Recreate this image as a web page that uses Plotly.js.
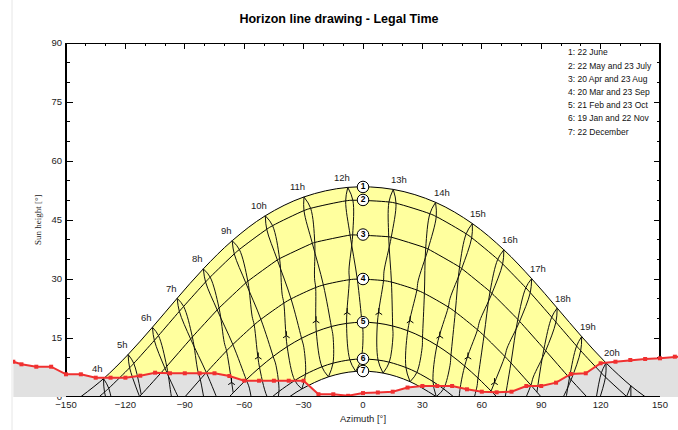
<!DOCTYPE html>
<html><head><meta charset="utf-8">
<script src="https://cdn.plot.ly/plotly-3.0.1.min.js"></script>
<style>html,body{margin:0;padding:0;background:#fff}#chart{width:678px;height:430px}</style>
</head><body><div id="chart"></div>
<script>
// ---------- data (azimuth ° from south, west positive ; sun height °) ----------
const HOURS = [3,4,5,6,7,8,9,10,11,12,13,14,15,16,17,18,19,20,21];
const _ = null;
// iso-date points at each legal hour
const junAz  = [-143.86,-131.05,-118.63,-106.35,-93.86,-80.65,-66.07,-49.34,-29.81,-7.69,15.27,36.64,55.21,71.14,85.17,98.07,110.44,122.74,135.28];
const junAlt = [-0.4,4.66,10.81,17.73,25.10,32.58,39.74,46.08,50.86,53.29,52.78,49.49,44.10,37.42,30.09,22.61,15.36,8.66,2.84];
const mayAz  = [-141.45,-128.41,-115.77,-103.29,-90.6,-77.2,-62.45,-45.67,-26.43,-5.12,16.68,37.0,54.9,70.52,84.47,97.43,109.95,122.46,135.3];
const mayAlt = [-3.1,2.21,8.55,15.61,23.03,30.47,37.50,43.56,47.97,50.02,49.26,45.87,40.49,33.83,26.53,19.04,11.77,5.05,-0.77];
const julAz  = [-143.68,-130.55,-117.86,-105.38,-92.76,-79.51,-65.02,-48.63,-29.81,-8.76,13.1,33.77,52.1,68.05,82.23,95.31,107.87,120.37,133.13];
const julAlt = [-3.85,1.24,7.43,14.39,21.78,29.24,36.38,42.64,47.39,49.86,49.58,46.59,41.49,35.0,27.77,20.29,12.96,6.13,0.12];
const aprAz  = [_,-125.17,-112.0,-99.13,-86.19,-72.71,-58.18,-42.14,-24.37,-5.22,14.27,32.86,49.84,65.12,79.1,92.27,105.11,118.08,_];
const aprAlt = [_,-6.0,0.58,7.79,15.26,22.62,29.43,35.18,39.29,41.21,40.62,37.62,32.66,26.35,19.23,11.77,4.37,-2.59,_];
const augAz  = [_,-126.06,-112.85,-99.99,-87.07,-73.64,-59.19,-43.26,-25.6,-6.52,12.98,31.67,48.76,64.16,78.2,91.4,104.26,117.21,_];
const augAlt = [_,-6.4,0.11,7.29,14.76,22.14,29.01,34.85,39.08,41.16,40.73,37.89,33.05,26.80,19.72,12.27,4.85,-2.15,_];
const m26Az  = [_,_,_,-96.4,-83.39,-70.07,-56.0,-40.85,-24.47,-7.09,10.62,27.84,43.99,58.9,72.78,86.0,99.0,_,_];
const m26Alt = [_,_,_,-0.91,6.57,13.86,20.53,26.14,30.18,32.21,31.99,29.52,25.12,19.27,12.44,5.08,-2.4,_,_];
const marAz  = [_,_,-95.2,-82.19,-68.92,-54.96,-39.99,-23.91,-6.92,10.36,27.21,43.08,57.82,71.62,84.8,97.81,_,_,_];
const marAlt = [_,_,-3.0,4.49,11.73,18.34,23.86,27.83,29.82,29.59,27.18,22.87,17.09,10.32,3.0,-4.49,_,_,_];
const sepAz  = [_,_,_,-92.17,-79.13,-65.74,-51.57,-36.34,-20.01,-2.89,14.36,31.01,46.62,61.12,74.73,87.83,100.87,_,_];
const sepAlt = [_,_,_,-1.25,6.21,13.35,19.74,24.94,28.48,29.97,29.22,26.33,21.63,15.59,8.65,1.25,-6.21,_,_];
const febAz  = [_,_,_,-78.45,-65.55,-52.25,-38.3,-23.6,-8.3,7.26,22.6,37.34,51.34,64.68,77.6,_,_,_,_];
const febAlt = [_,_,_,-6.05,1.07,7.48,12.80,16.65,18.71,18.78,16.85,13.11,7.87,1.52,-5.56,_,_,_,_];
const octAz  = [_,_,_,_,-72.03,-58.97,-45.37,-31.04,-16.0,-0.52,14.98,30.05,44.43,58.08,71.17,_,_,_,_];
const octAlt = [_,_,_,_,-2.42,4.39,10.3,14.93,17.92,19.0,18.05,15.19,10.66,4.81,-1.95,_,_,_,_];
const o29Az  = [_,_,_,_,-70.34,-57.39,-43.95,-29.86,-15.13,0,15.13,29.86,43.95,57.39,70.34,_,_,_,_];
const o29Alt = [_,_,_,_,-4.46,2.26,8.05,12.55,15.41,16.40,15.41,12.55,8.05,2.26,-4.46,_,_,_,_];
const janAz  = [_,_,_,_,_,-47.64,-34.46,-20.76,-6.65,7.6,21.68,35.36,48.5,_,_,_,_,_,_];
const janAlt = [_,_,_,_,_,-0.72,4.2,7.68,9.45,9.39,7.49,3.92,-1.09,_,_,_,_,_,_];
const novAz  = [_,_,_,_,-55.32,-42.43,-29.04,-15.15,-0.95,13.27,27.21,40.68,53.63,_,_,_,_,_,_];
const novAlt = [_,_,_,_,-4.23,1.41,5.78,8.6,9.65,8.85,6.25,2.07,-3.42,_,_,_,_,_,_];
const decAz  = [_,_,_,_,_,-43.87,-30.89,-17.45,-3.7,10.14,23.78,37.0,49.78,_,_,_,_,_,_];
const decAlt = [_,_,_,_,_,-2.49,2.05,5.12,6.5,6.08,3.89,0.1,-5.04,_,_,_,_,_,_];

// sunrise / sunset azimuth of each date curve (1..7) and noon height
const riseAz  = [142.7,133.4,113.1,90.0,67.6,45.9,37.3];
const noonAlt = [53.4,50.1,41.3,30.0,19.0,9.7,6.6];
const curveNo = ['1','2','3','4','5','6','7'];

// horizon profile
const horAz  = [-176.6,-172.5,-165,-157.5,-150,-142.5,-135,-127.5,-120,-112.5,-105,-97.5,-90,-82.5,-75,-67.5,-60,-52.5,-45,-37.5,-30,-22.5,-15,-7.5,0,7.5,15,22.5,30,37.5,45,52.5,60,67.5,75,82.5,90,97.5,105,112.5,120,127.5,135,142.5,150,157.5,165];
const horAlt = [8.97,8.31,7.70,7.70,5.77,5.77,4.91,4.91,4.91,5.42,6.18,6.03,6.03,6.03,6.03,5.34,4.14,4.14,4.14,4.14,4.14,0.7,0.69,0.3,1.0,1.15,1.35,2.4,2.8,2.8,2.8,1.96,1.35,1.19,1.35,2.8,2.8,3.64,5.85,6.03,8.57,8.97,9.41,9.66,9.84,10.25,10.5];

// small direction arrows on the iso-hour lines
const arrowAz  = [-66.4,-52.9,-38.7,-23.7,-8.0,8.0,23.8,38.8,53.0,66.4];
const arrowAlt = [3.7,10.2,15.6,19.4,21.5,21.5,19.4,15.5,10.2,3.7];

const hourLabels = ['4h','5h','6h','7h','8h','9h','10h','11h','12h','13h','14h','15h','16h','17h','18h','19h','20h'];
const legendLines = ['1: 22 June','2: 22 May and 23 July','3: 20 Apr and 23 Aug','4: 20 Mar and 23 Sep','5: 21 Feb and 23 Oct','6: 19 Jan and 22 Nov','7: 22 December'];
const xTicks = [-150,-120,-90,-60,-30,0,30,60,90,120,150];
const xMinor = [-140,-130,-110,-100,-80,-70,-50,-40,-20,-10,10,20,40,50,70,80,100,110,130,140];
const yTicks = [0,15,30,45,60,75,90];

// ---------- build ----------
const INST = {jun:[junAz,junAlt],may:[mayAz,mayAlt],jul:[julAz,julAlt],apr:[aprAz,aprAlt],aug:[augAz,augAlt],
  m26:[m26Az,m26Alt],mar:[marAz,marAlt],sep:[sepAz,sepAlt],feb:[febAz,febAlt],oct:[octAz,octAlt],
  o29:[o29Az,o29Alt],jan:[janAz,janAlt],nov:[novAz,novAlt],dec:[decAz,decAlt]};
function P(k,T){const i=HOURS.indexOf(T); if(i<0) return null; const a=INST[k][0][i]; if(a==null) return null; return [a,INST[k][1][i]];}
function path(seq){const x=[],y=[]; seq.forEach(([k,T])=>{const p=P(k,T); if(p){x.push(p[0]);y.push(p[1]);}}); return {x,y};}

const DATE_SETS = [['jun'],['may','jul'],['apr','aug'],['mar','sep'],['feb','oct'],['jan','nov'],['dec']];
const dateCurves = DATE_SETS.map((set,ci)=>{
  let pts=[];
  set.forEach(k=>{INST[k][0].forEach((a,i)=>{const b=INST[k][1][i]; if(a!=null && b>0.3) pts.push([a,b]);});});
  pts.sort((p,q)=>p[0]-q[0]);
  pts=[[-riseAz[ci],0]].concat(pts,[[riseAz[ci],0]]);
  return {x:pts.map(p=>p[0]),y:pts.map(p=>p[1])};
});

const BLACK='#000';
const traces=[];
// yellow band between curve 1 and curve 7
const c1=dateCurves[0], c7=dateCurves[6];
traces.push({x:[-riseAz[0]].concat(c7.x,[riseAz[0]]),y:[0].concat(c7.y,[0]),mode:'lines',
  line:{width:0,shape:'spline',color:'rgba(0,0,0,0)'},hoverinfo:'skip'});
traces.push({x:c1.x,y:c1.y,mode:'lines',fill:'tonexty',fillcolor:'#ffff9e',
  line:{width:0,shape:'spline',color:'rgba(0,0,0,0)'},hoverinfo:'skip'});
// horizon grey area
traces.push({x:horAz,y:horAlt,mode:'lines',fill:'tozeroy',fillcolor:'#e1e1e1',line:{width:0,color:'rgba(0,0,0,0)'},hoverinfo:'skip'});
// date curves
dateCurves.forEach(c=>traces.push({x:c.x,y:c.y,mode:'lines',line:{color:BLACK,width:1,shape:'spline'},hoverinfo:'skip'}));
// iso-hour lines (two branches, legal time with DST jumps)
for(let T=3;T<=20;T++){
  const a=path([['dec',T],['jan',T],['feb',T],['mar',T],['m26',T+1],['apr',T+1],['may',T+1],['jun',T+1]]);
  if(a.x.length>1) traces.push({x:a.x,y:a.y,mode:'lines',line:{color:'#111',width:1,shape:'spline'},hoverinfo:'skip'});
}
for(let T=4;T<=21;T++){
  const b=path([['jun',T],['jul',T],['aug',T],['sep',T],['oct',T],['o29',T],['nov',T-1],['dec',T-1]]);
  if(b.x.length>1) traces.push({x:b.x,y:b.y,mode:'lines',line:{color:'#111',width:1,shape:'spline'},hoverinfo:'skip'});
}
traces.push({x:arrowAz,y:arrowAlt,mode:'markers',marker:{symbol:'y-up',size:5.5,color:BLACK,line:{width:1,color:BLACK}},hoverinfo:'skip'});
// numbered circles
traces.push({x:noonAlt.map(()=>0),y:noonAlt,mode:'markers+text',text:curveNo,textposition:'middle center',
  textfont:{family:'Liberation Sans, Arial',size:8.5,color:BLACK,weight:'bold'},
  marker:{symbol:'circle',size:11.5,color:'#fff',line:{width:1,color:BLACK}},hoverinfo:'skip'});
// horizon line
traces.push({x:horAz,y:horAlt,mode:'lines+markers',line:{color:'#f03030',width:2},
  marker:{symbol:'square',size:4,color:'#f03030'},hoverinfo:'skip'});
// dummy traces for extra axes
traces.push({x:[0],y:[-10],xaxis:'x2',yaxis:'y',mode:'markers',marker:{opacity:0},hoverinfo:'skip'});
traces.push({x:[0],y:[-10],xaxis:'x',yaxis:'y2',mode:'markers',marker:{opacity:0},hoverinfo:'skip'});

const FONT='Liberation Sans, Arial, sans-serif';
const annotations=[];
hourLabels.forEach((t,k)=>{
  const p=P('jun',k+4);
  const xs = p[0]<-3?-6:(p[0]>3?6:-1);
  annotations.push({x:p[0],y:p[1],text:t,showarrow:false,xshift:xs,yshift:10,font:{family:FONT,size:9.5,color:'#222'}});
});
legendLines.forEach((t,i)=>{
  annotations.push({x:103.5,y:87.63-3.364*i,text:t,showarrow:false,xanchor:'left',yanchor:'middle',xshift:-2,font:{family:FONT,size:8.5,color:'#111'}});
});
annotations.push({x:0,y:0,text:'Azimuth [°]',showarrow:false,yshift:-21,font:{family:FONT,size:9.5,color:'#222'}});
annotations.push({x:-150,y:45,text:'Sun height [°]',showarrow:false,xshift:-28,textangle:-90,font:{family:'Liberation Serif, Times New Roman, serif',size:9,color:'#222'}});

const XR=[-176.77,159.09];
const shapes=[
  {type:'line',xref:'x',yref:'y',x0:-150,y0:0,x1:-150,y1:90,line:{color:BLACK,width:2},layer:'below'},
  {type:'line',xref:'x',yref:'y',x0:-150,y0:90,x1:150,y1:90,line:{color:BLACK,width:2},layer:'below'},
  {type:'line',xref:'x',yref:'y',x0:150,y0:0,x1:150,y1:90,line:{color:BLACK,width:2},layer:'below'},
  {type:'line',xref:'x',yref:'y',x0:-150,y0:0,x1:150,y1:0,line:{color:BLACK,width:2},layer:'above'},
  {type:'line',xref:'paper',yref:'paper',x0:-0.0015,x1:-0.0015,y0:-0.1,y1:1.13,line:{color:'#e6e6e6',width:1},layer:'below'}
];

const layout={
  width:678,height:430,margin:{l:13,r:0,t:43,b:33,pad:0},
  paper_bgcolor:'#fff',plot_bgcolor:'#fff',showlegend:false,
  title:{text:'<b>Horizon line drawing - Legal Time</b>',font:{family:FONT,size:12.5,color:'#000'},
    x:0.5,xref:'container',xanchor:'center',y:1-19/430,yref:'container',yanchor:'middle'},
  xaxis:{range:XR,showgrid:false,zeroline:false,showline:false,tickmode:'array',tickvals:xTicks,ticks:'',
    tickfont:{family:FONT,size:9.5,color:'#222'},fixedrange:true},
  xaxis2:{overlaying:'x',side:'top',anchor:'y',range:XR,showgrid:false,zeroline:false,showline:false,
    tickmode:'array',tickvals:xTicks,ticks:'inside',ticklen:6,tickcolor:BLACK,tickwidth:1,showticklabels:false,
    minor:{tickmode:'array',tickvals:xMinor,ticks:'inside',ticklen:3,tickcolor:BLACK,tickwidth:1,showgrid:false}},
  yaxis:{range:[0,90],anchor:'free',position:53/665,side:'left',showgrid:false,zeroline:false,showline:false,
    tickmode:'array',tickvals:yTicks,ticks:'inside',ticklen:6,tickcolor:BLACK,tickwidth:1,layer:'below traces',
    ticklabelstandoff:4,tickfont:{family:FONT,size:9.5,color:'#222'},
    minor:{dtick:5,tick0:0,ticks:'inside',ticklen:3,tickcolor:BLACK,tickwidth:1,showgrid:false}},
  yaxis2:{range:[0,90],overlaying:'y',anchor:'free',position:647/665,side:'right',showgrid:false,zeroline:false,showline:false,
    tickmode:'array',tickvals:yTicks,ticks:'inside',ticklen:6,tickcolor:BLACK,tickwidth:1,showticklabels:false,layer:'below traces',
    minor:{dtick:5,tick0:0,ticks:'inside',ticklen:3,tickcolor:BLACK,tickwidth:1,showgrid:false}},
  shapes:shapes,annotations:annotations
};
Plotly.newPlot('chart',traces,layout,{staticPlot:true,displayModeBar:false});
</script></body></html>
